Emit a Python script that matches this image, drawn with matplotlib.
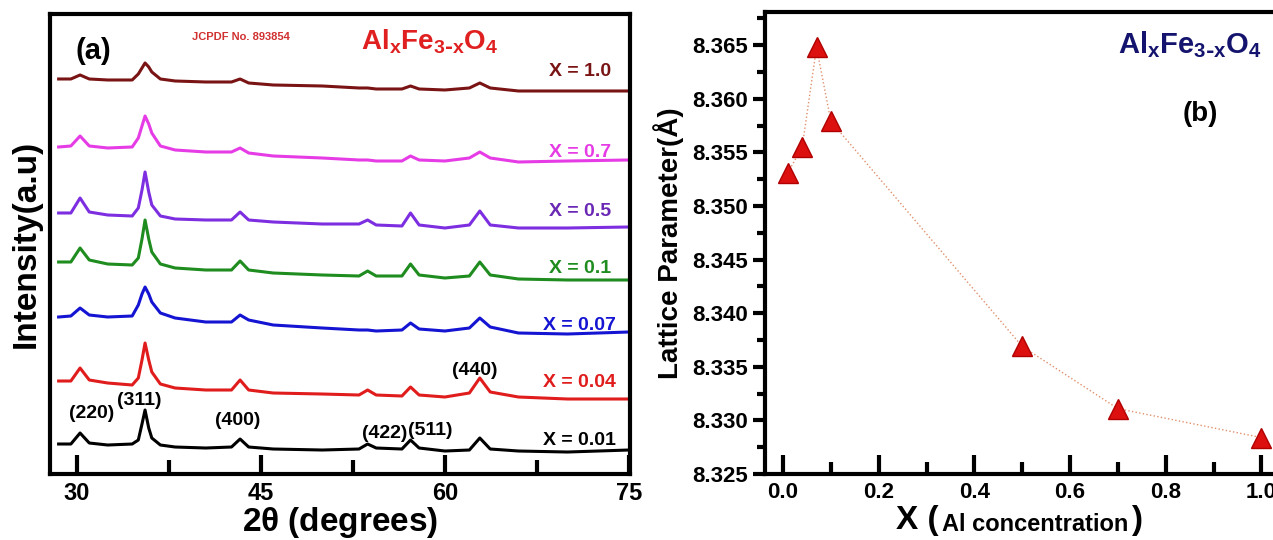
import numpy as np
import matplotlib
matplotlib.use('Agg')
import matplotlib.pyplot as plt
from matplotlib.ticker import MultipleLocator, FormatStrFormatter

plt.rcParams['font.family'] = ['Liberation Sans Narrow', 'Liberation Sans', 'DejaVu Sans']
plt.rcParams['font.weight'] = 'bold'
plt.rcParams['axes.labelweight'] = 'bold'
plt.rcParams['mathtext.default'] = 'regular'

# ---- panel (a): XRD patterns (2theta grid, intensity above own baseline, a.u.)
two_theta = [28.5, 29.5, 30.25, 31.0, 32.5, 34.5, 35.0, 35.3, 35.55, 35.85, 36.1, 36.8,
             38.0, 40.5, 42.6, 43.3, 44.0, 46.0, 50.0, 53.0, 53.7, 54.4, 56.5, 57.2,
             57.9, 60.0, 62.0, 62.85, 63.7, 66.0, 70.0, 75.0]
I_001 = [8, 8, 19, 9, 7, 8, 12, 28, 42, 24, 14, 7, 5, 4, 5, 13, 5, 3, 2, 3, 8, 4, 3, 12,
         4, 1, 2, 14, 3, 1, 0, 2]
I_004 = [19, 19, 32, 20, 17, 15, 22, 40, 57, 40, 28, 16, 12, 10, 10, 20, 10, 7, 6, 5, 10,
         5, 4, 13, 5, 3, 7, 22, 8, 3, 1, 1]
I_007 = [17, 18, 26, 19, 17, 18, 29, 40, 47, 40, 32, 21, 16, 12, 12, 19, 14, 9, 6, 4, 4,
         3, 4, 11, 5, 3, 6, 16, 7, 1, 0, 2]
I_010 = [19, 19, 33, 21, 17, 16, 23, 42, 61, 42, 29, 17, 13, 11, 11, 20, 11, 8, 6, 5, 10,
         5, 5, 17, 6, 3, 5, 19, 6, 2, 1, 1]
I_050 = [15, 15, 30, 16, 13, 12, 20, 38, 56, 36, 23, 12, 9, 8, 8, 16, 8, 6, 4, 4, 8, 3, 2,
         15, 3, 0, 3, 17, 3, 0, 0, 1]
I_070 = [15, 16, 26, 16, 14, 15, 24, 36, 46, 38, 29, 16, 12, 10, 10, 14, 9, 6, 4, 2, 2, 1,
         1, 6, 2, 1, 4, 10, 4, 0, 1, 2]
I_100 = [12, 12, 16, 12, 11, 11, 17, 23, 28, 24, 19, 12, 10, 9, 9, 12, 8, 6, 5, 3, 3, 2,
         2, 5, 2, 1, 3, 8, 3, 0, 0, 0]
patterns = [I_001, I_004, I_007, I_010, I_050, I_070, I_100]
x_labels = ['X = 0.01', 'X = 0.04', 'X = 0.07', 'X = 0.1', 'X = 0.5', 'X = 0.7', 'X = 1.0']
colors = ['black', '#e01c1c', '#1414d2', '#1e8c1e', '#7d2ee0', '#e63ce6', '#7a1414']
label_colors = ['black', '#e01c1c', '#1414d2', '#1e8c1e', '#6a28b4', '#e63ce6', '#7a1414']
offsets = [22, 74, 140, 193, 246, 312, 383]
label_dy = [12, 18, 9, 13, 16, 9, 19]

hkl = ['(220)', '(311)', '(400)', '(422)', '(511)', '(440)']
hkl_pos = [(31.2, 61), (35.1, 74), (43.1, 54), (55.1, 41), (58.8, 44), (62.4, 104)]

# ---- panel (b): lattice parameter
x_al = [0.01, 0.04, 0.07, 0.1, 0.5, 0.7, 1.0]
lattice = [8.3531, 8.3555, 8.3648, 8.3579, 8.3369, 8.3311, 8.3284]

fig = plt.figure(figsize=(12.73, 5.4), dpi=100)

ax1 = fig.add_axes([0.0393, 0.1222, 0.4556, 0.8519])
for I, off, c in zip(patterns, offsets, colors):
    plt.plot(two_theta, np.array(I) + off, color=c, linewidth=2.2)
for lab, off, dy, c in zip(x_labels, offsets, label_dy, label_colors):
    plt.text(71.0, off + dy, lab, color=c, fontsize=14, ha='center', va='center')
for h, (hx, hy) in zip(hkl, hkl_pos):
    plt.text(hx, hy, h, fontsize=14, ha='center', va='center')
plt.text(0.075, 0.92, '(a)', transform=ax1.transAxes, fontsize=21, ha='center', va='center')
plt.text(0.33, 0.95, 'JCPDF No. 893854', transform=ax1.transAxes, fontsize=8, color='#d03030',
         ha='center', va='center')
plt.text(0.655, 0.94, r'Al$_x$Fe$_{3\text{-}x}$O$_4$', transform=ax1.transAxes, fontsize=20,
         color='#e02020', ha='center', va='center')
plt.xlim(27.8, 75.1)
plt.ylim(0, 460)
ax1.set_xticks([30, 45, 60, 75])
ax1.xaxis.set_minor_locator(MultipleLocator(7.5))
ax1.set_yticks([])
ax1.tick_params(axis='x', which='major', direction='in', length=14, width=3, labelsize=17, pad=6)
ax1.tick_params(axis='x', which='minor', direction='in', length=10, width=3)
for s in ax1.spines.values():
    s.set_linewidth(3)
plt.xlabel(r'2$\theta$ (degrees)', fontsize=24, labelpad=0)
plt.ylabel('Intensity(a.u)', fontsize=24, labelpad=6)

ax2 = fig.add_axes([0.601, 0.1222, 0.4124, 0.8556])
plt.plot(x_al, lattice, linestyle=':', color='#e0906c', linewidth=1)
plt.plot(x_al, lattice, linestyle='none', marker='^', markersize=14, color='#dd1010',
         markeredgecolor='#b00000')
plt.xlim(-0.0376, 1.06)
plt.ylim(8.325, 8.3681)
ax2.xaxis.set_major_locator(MultipleLocator(0.2))
ax2.xaxis.set_minor_locator(MultipleLocator(0.1))
ax2.xaxis.set_major_formatter(FormatStrFormatter('%.1f'))
ax2.yaxis.set_major_locator(MultipleLocator(0.005))
ax2.yaxis.set_minor_locator(MultipleLocator(0.0025))
ax2.yaxis.set_major_formatter(FormatStrFormatter('%.3f'))
ax2.tick_params(axis='x', which='major', direction='in', length=14, width=3, labelsize=16, pad=6)
ax2.tick_params(axis='x', which='minor', direction='in', length=9, width=3)
ax2.tick_params(axis='y', which='major', direction='out', length=9, width=3, labelsize=16)
ax2.tick_params(axis='y', which='minor', direction='out', length=6, width=3)
for s in ax2.spines.values():
    s.set_linewidth(3)
plt.ylabel('Lattice Parameter(Å)', fontsize=20, labelpad=6)
plt.text(0.81, 0.93, r'Al$_x$Fe$_{3\text{-}x}$O$_4$', transform=ax2.transAxes, fontsize=21,
         color='#14146e', ha='center', va='center')
plt.text(0.83, 0.78, '(b)', transform=ax2.transAxes, fontsize=20, ha='center', va='center')

t1 = fig.text(0.704, 0.02, 'X (', fontsize=24, ha='left', va='baseline')
t2 = ax2.annotate('Al concentration', xy=(1, 0), xycoords=t1, xytext=(2, 0),
                  textcoords='offset points', fontsize=17, va='bottom', annotation_clip=False)
t3 = ax2.annotate(')', xy=(1, 0), xycoords=t2, xytext=(2, 0), textcoords='offset points',
                  fontsize=24, va='bottom', annotation_clip=False)

plt.savefig('out.png', dpi=100)
